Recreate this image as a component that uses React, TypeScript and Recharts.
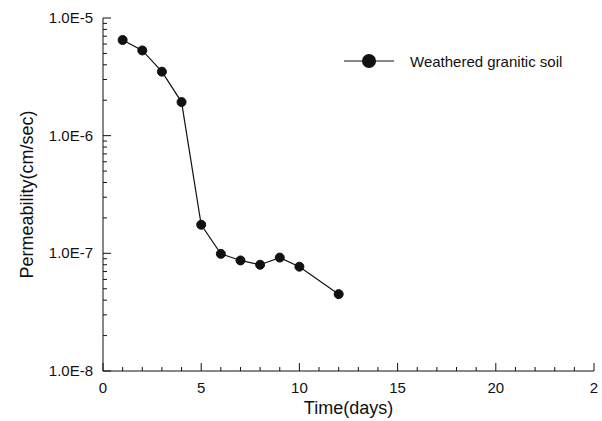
import {
  LineChart,
  Line,
  XAxis,
  YAxis,
  Legend,
} from 'recharts';

// time in days and measured permeability (cm/sec)
const days = [1, 2, 3, 4, 5, 6, 7, 8, 9, 10, 12];
const permeability = [
  6.5e-6, 5.3e-6, 3.5e-6, 1.93e-6, 1.75e-7, 9.9e-8, 8.7e-8, 8.0e-8, 9.2e-8, 7.7e-8, 4.5e-8,
];
const seriesName = 'Weathered granitic soil';

const xTicks = Array.from({ length: 26 }, (_, i) => i);
const decades = [1e-8, 1e-7, 1e-6];
const yTicks = [...decades.flatMap((d) => [1, 2, 3, 4, 5, 6, 7, 8, 9].map((m) => m * d)), 1e-5];

const data = days.map((d, i) => ({ day: d, k: permeability[i] }));

const INK = '#111';
const FONT = 'Arial, "Liberation Sans", Helvetica, sans-serif';

// ticks point into the plot, long on majors, short on minors
function XTick(props: any) {
  const { x, y, payload } = props;
  const v = payload.value as number;
  const major = v % 5 === 0;
  return (
    <g>
      <path d={`M${x},${y}V${y - (major ? 8 : 4)}`} stroke={INK} strokeWidth={1} fill="none" />
      {major && (
        <text x={x} y={y + 22} textAnchor="middle" fontSize={15} fill={INK} fontFamily={FONT}>
          {v === 25 ? '2' : v}
        </text>
      )}
    </g>
  );
}

function YTick(props: any) {
  const { x, y, payload } = props;
  const v = payload.value as number;
  const lg = Math.log10(v);
  const major = Math.abs(lg - Math.round(lg)) < 1e-6;
  return (
    <g>
      <path d={`M${x},${y}H${x + (major ? 8 : 4)}`} stroke={INK} strokeWidth={1} fill="none" />
      {major && (
        <text x={x - 10} y={y + 5} textAnchor="end" fontSize={15} fill={INK} fontFamily={FONT}>
          {v.toExponential(1).replace('e', 'E')}
        </text>
      )}
    </g>
  );
}

function LegendBox() {
  return (
    <div style={{ display: 'flex', alignItems: 'center', fontFamily: FONT, fontSize: 15, color: INK }}>
      <svg width={54} height={20}>
        <line x1={2} y1={10} x2={52} y2={10} stroke={INK} strokeWidth={1} />
        <circle cx={27} cy={10} r={7} fill={INK} />
      </svg>
      <span style={{ marginLeft: 14 }}>{seriesName}</span>
    </div>
  );
}

export default function App() {
  return (
    <div style={{ position: 'absolute', left: 0, top: 0, background: '#fff' }}>
      <LineChart width={602} height={421} data={data} margin={{ top: 18, right: 8, bottom: 0, left: 0 }}>
        <XAxis
          dataKey="day"
          type="number"
          domain={[0, 25]}
          ticks={xTicks}
          interval={0}
          height={50}
          tickSize={0}
          tickMargin={0}
          axisLine={{ stroke: INK }}
          tick={<XTick />}
          label={{ value: 'Time(days)', position: 'insideBottom', offset: 7, fontSize: 18, fill: INK, fontFamily: FONT }}
        />
        {/* top and right frame lines */}
        <XAxis xAxisId="top" orientation="top" type="number" domain={[0, 25]} height={0} tick={false} tickLine={false} axisLine={{ stroke: INK }} />
        <YAxis
          dataKey="k"
          scale="log"
          domain={[1e-8, 1e-5]}
          ticks={yTicks}
          interval={0}
          width={103}
          tickSize={0}
          tickMargin={0}
          axisLine={{ stroke: INK }}
          tick={<YTick />}
          allowDataOverflow
          label={{
            value: 'Permeability(cm/sec)',
            angle: -90,
            position: 'insideLeft',
            offset: 27,
            fontSize: 18,
            fill: INK,
            fontFamily: FONT,
            style: { textAnchor: 'middle' },
          }}
        />
        <YAxis yAxisId="right" orientation="right" type="number" domain={[0, 1]} width={0} tick={false} tickLine={false} axisLine={{ stroke: INK }} />
        <Legend
          verticalAlign="middle"
          align="center"
          content={<LegendBox />}
          wrapperStyle={{ position: 'absolute', top: 51, left: 342, width: 260 }}
        />
        <Line
          dataKey="k"
          name={seriesName}
          stroke={INK}
          strokeWidth={1.2}
          dot={{ r: 4.5, fill: INK, stroke: INK, strokeWidth: 1 }}
          isAnimationActive={false}
        />
      </LineChart>
    </div>
  );
}
